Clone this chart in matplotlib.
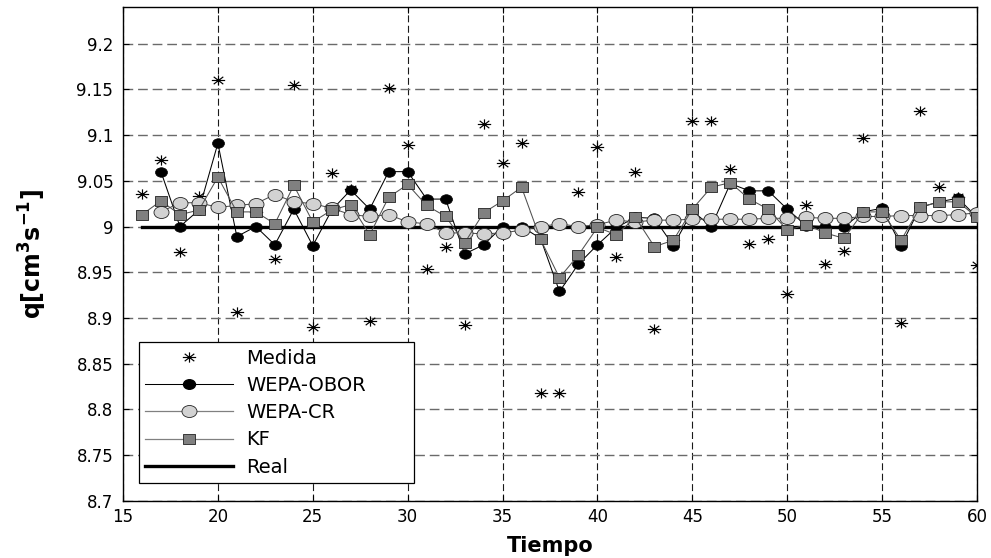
import matplotlib
matplotlib.use("Agg")
import matplotlib.pyplot as plt
from matplotlib.path import Path
from matplotlib.transforms import Affine2D
from matplotlib.lines import Line2D

# ---------------- data ----------------
tiempo_medida = list(range(16, 61))
medida = [9.036, 9.073, 8.972, 9.033, 9.160, 8.907, 9.016, 8.965, 9.155, 8.890,
          9.058, 9.041, 8.897, 9.151, 9.089, 8.954, 8.978, 8.892, 9.112, 9.069,
          9.091, 8.818, 8.818, 9.038, 9.087, 8.967, 9.060, 8.888, 8.985, 9.115,
          9.115, 9.063, 8.981, 8.986, 8.926, 9.024, 8.959, 8.973, 9.097, 9.018,
          8.894, 9.126, 9.043, 9.032, 8.958]

tiempo_wepa = list(range(17, 61))
wepa_obor = [9.060, 9.000, 9.018, 9.091, 8.989, 9.000, 8.980, 9.019, 8.979, 9.018,
             9.040, 9.019, 9.060, 9.060, 9.030, 9.030, 8.970, 8.980, 9.000, 9.000,
             8.987, 8.929, 8.959, 8.980, 8.999, 9.010, 9.009, 8.979, 9.017, 9.000,
             9.047, 9.039, 9.039, 9.019, 9.001, 9.000, 9.000, 9.016, 9.020, 8.979,
             9.021, 9.027, 9.031, 9.010]
wepa_cr = [9.016, 9.026, 9.026, 9.021, 9.023, 9.025, 9.035, 9.027, 9.025, 9.020,
           9.013, 9.011, 9.013, 9.005, 9.003, 8.993, 8.993, 8.992, 8.993, 8.996,
           9.000, 9.003, 9.000, 9.002, 9.007, 9.005, 9.007, 9.007, 9.008, 9.008,
           9.008, 9.008, 9.009, 9.009, 9.010, 9.009, 9.009, 9.011, 9.011, 9.012,
           9.012, 9.012, 9.013, 9.015]

tiempo_kf = list(range(16, 61))
kf = [9.013, 9.028, 9.013, 9.018, 9.054, 9.016, 9.016, 9.003, 9.045, 9.005,
      9.018, 9.024, 8.991, 9.032, 9.046, 9.023, 9.011, 8.982, 9.015, 9.028,
      9.043, 8.986, 8.944, 8.969, 8.999, 8.991, 9.010, 8.978, 8.985, 9.019,
      9.043, 9.048, 9.030, 9.019, 8.996, 9.002, 8.993, 8.987, 9.016, 9.016,
      8.985, 9.021, 9.027, 9.027, 9.010]

tiempo_real = [16, 60]
q_real = [9.0, 9.0]

xticks = [15, 20, 25, 30, 35, 40, 45, 50, 55, 60]
yticks = [8.7, 8.75, 8.8, 8.85, 8.9, 8.95, 9.0, 9.05, 9.1, 9.15, 9.2]
ytick_labels = ["8.7", "8.75", "8.8", "8.85", "8.9", "8.95", "9", "9.05", "9.1", "9.15", "9.2"]

# ---------------- style ----------------
plt.rcParams["font.family"] = ["DejaVu Sans"]
plt.rcParams["lines.scale_dashes"] = False
plt.rcParams["mathtext.fontset"] = "dejavusans"

# slightly wide markers
def asterisk_path(sx=1.3):
    d = 0.72
    pts = [(-1, 0), (1, 0), (0, -1), (0, 1), (-d, -d), (d, d), (-d, d), (d, -d)]
    pts = [(x * sx, y) for x, y in pts]
    codes = [Path.MOVETO, Path.LINETO] * 4
    return Path(pts, codes)

ellipse = Path.unit_circle().transformed(Affine2D().scale(1.25, 1.0))
box = Path.unit_rectangle().transformed(Affine2D().translate(-0.5, -0.5).scale(1.2, 1.0))
star = asterisk_path()

fig = plt.figure(figsize=(9.91, 5.58), dpi=100)
ax = fig.add_axes([0.1241, 0.1022, 0.8618, 0.8853])

ax.plot(tiempo_medida, medida, linestyle="none", marker=star, markersize=9.6,
        markeredgecolor="black", markerfacecolor="none", markeredgewidth=0.85,
        zorder=2, label="Medida")
ax.plot(tiempo_real, q_real, color="black", linewidth=2.4, zorder=2.5, label="Real")
ax.plot(tiempo_wepa, wepa_obor, color="black", linewidth=0.75, marker=ellipse,
        markersize=8.6, markerfacecolor="black", markeredgecolor="black",
        markeredgewidth=0.5, zorder=3, label="WEPA-OBOR")
ax.plot(tiempo_wepa, wepa_cr, color="#505050", linewidth=0.75, marker=ellipse,
        markersize=10.8, markerfacecolor="#d2d2d2", markeredgecolor="#222222",
        markeredgewidth=0.6, zorder=4, label="WEPA-CR")
ax.plot(tiempo_kf, kf, color="#505050", linewidth=0.75, marker=box,
        markersize=8.6, markerfacecolor="#808080", markeredgecolor="#222222",
        markeredgewidth=0.6, zorder=5, label="KF")

ax.set_xlim(15, 60)
ax.set_ylim(8.7, 9.24)
ax.set_xticks(xticks)
ax.set_xticklabels([str(t) for t in xticks])
ax.set_yticks(yticks)
ax.set_yticklabels(ytick_labels)

ax.tick_params(axis="both", direction="in", length=4.5, width=0.8,
               top=True, right=True, labelsize=12, colors="black")
ax.tick_params(axis="y", pad=7)
ax.tick_params(axis="x", pad=5)

ax.yaxis.grid(True, color="#6a6a6a", linestyle=(0, (7, 3.5)), linewidth=1.0, zorder=0)
ax.xaxis.grid(True, color="#1a1a1a", linestyle=(0, (5, 2.5)), linewidth=0.8, zorder=0)
ax.set_axisbelow(True)
for sp in ax.spines.values():
    sp.set_linewidth(1.0)
    sp.set_color("black")

ax.set_xlabel("Tiempo", fontsize=15, fontweight="bold", labelpad=7)
ax.set_ylabel(r"q[cm$^{\mathbf{3}}$s$^{\mathbf{-1}}$]", fontsize=17, fontweight="bold")
ax.yaxis.set_label_coords(-0.087, 0.5)

handles = [
    Line2D([], [], linestyle="none", marker=star, markersize=9.6,
           markeredgecolor="black", markerfacecolor="none", markeredgewidth=0.85),
    Line2D([], [], color="black", linewidth=0.75, marker=ellipse, markersize=8.6,
           markerfacecolor="black", markeredgecolor="black"),
    Line2D([], [], color="#808080", linewidth=0.9, marker=ellipse, markersize=10.8,
           markerfacecolor="#d2d2d2", markeredgecolor="#222222", markeredgewidth=0.6),
    Line2D([], [], color="#808080", linewidth=0.9, marker=box, markersize=8.6,
           markerfacecolor="#808080", markeredgecolor="#222222", markeredgewidth=0.6),
    Line2D([], [], color="black", linewidth=2.4),
]
labels = ["Medida", "WEPA-OBOR", "WEPA-CR", "KF", "Real"]
leg = ax.legend(handles, labels, loc="lower left",
                bbox_to_anchor=(0.0187, 0.0364, 0.322, 0.283), mode="expand",
                borderaxespad=0, fontsize=14, handlelength=4.5, handletextpad=0.7,
                labelspacing=0.42, borderpad=0.33, fancybox=False, framealpha=1,
                edgecolor="black", numpoints=1)
leg.get_frame().set_linewidth(0.9)
leg.set_zorder(10)

fig.savefig("out.png", dpi=100)
